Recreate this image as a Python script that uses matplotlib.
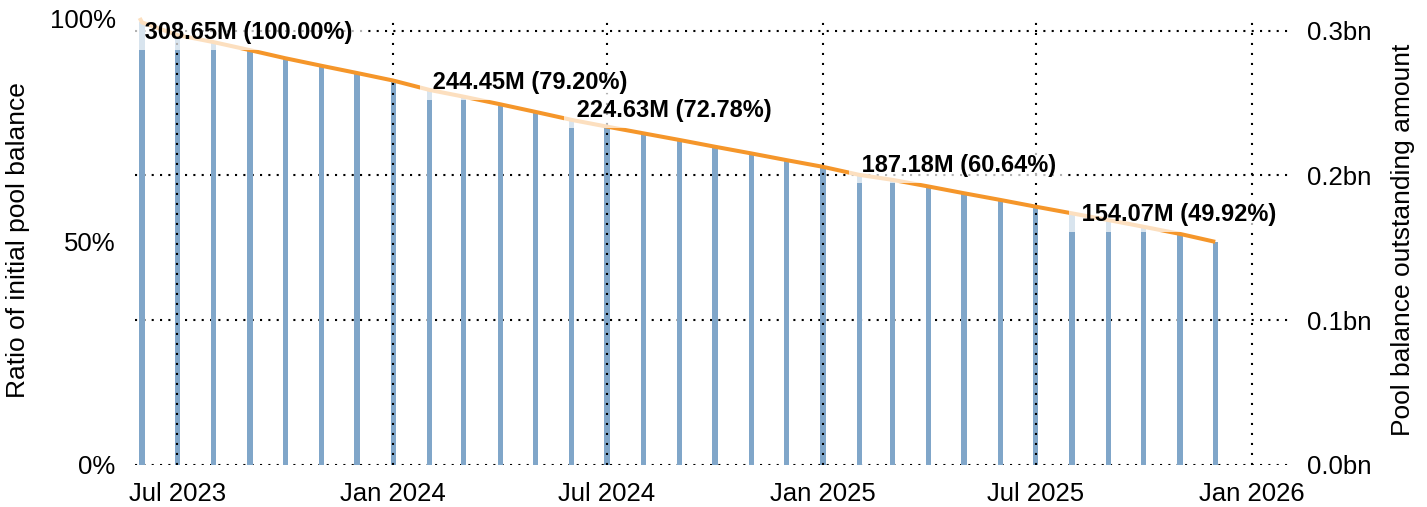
import matplotlib
matplotlib.use("Agg")
import matplotlib.pyplot as plt
import matplotlib.dates as mdates
import matplotlib.ticker as mticker
import pandas as pd

# ---------------- data ----------------
bar_dates = pd.date_range("2023-06-01", "2025-12-01", freq="MS")
ratio_pct = [99.0, 96.2, 94.6, 92.8, 91.0, 89.3, 87.7, 86.0, 83.9, 82.4, 80.7,
             79.0, 77.2, 75.7, 74.2, 72.7, 71.2, 69.7, 68.2, 66.7, 64.9, 63.8,
             62.3, 60.8, 59.3, 57.8, 56.3, 54.8, 53.3, 51.7, 49.92]
line_start_date = pd.Timestamp("2023-05-30")
line_start_pct = 100.0
initial_balance = 308.65e6

label_index = [0, 8, 12, 20, 26]
label_texts = ["308.65M (100.00%)", "244.45M (79.20%)", "224.63M (72.78%)",
               "187.18M (60.64%)", "154.07M (49.92%)"]
# label offsets in pixels (dx, dy) relative to anchor point
label_offsets = [(3, -10), (3, 7), (5, 9), (2, 9), (10, -1)]

right_ticks_bn = [0.0, 0.1, 0.2, 0.3]
left_ticks = [0.0, 0.5, 1.0]

# ---------------- style ----------------
plt.rcParams["font.family"] = ["Liberation Sans", "DejaVu Sans"]
BAR_C = "#80a6c9"
LINE_C = "#f5962a"

W, H = 1427, 507
fig = plt.figure(figsize=(W / 100, H / 100), dpi=100)
left_px, right_px, top_px, bottom_px = 135, 1288, 15, 465
ax = fig.add_axes([left_px / W, 1 - bottom_px / H,
                   (right_px - left_px) / W, (bottom_px - top_px) / H])
ax2 = ax.twinx()
ax.set_zorder(ax2.get_zorder() + 1)
ax.patch.set_visible(False)

ratio = [v / 100 for v in ratio_pct]
ax.bar(bar_dates, ratio, width=4.5, color=BAR_C, zorder=1)

line_x = [line_start_date] + list(bar_dates)
line_y = [line_start_pct / 100] + ratio
ax.plot(line_x, line_y, color=LINE_C, lw=2.9, zorder=3, solid_capstyle="butt")

px2pt = 72 / 100
for i, txt, (dx, dy) in zip(label_index, label_texts, label_offsets):
    ax.annotate(" " + txt + " ", xy=(bar_dates[i], ratio[i]),
                xytext=(dx * px2pt - 4.8, dy * px2pt),
                textcoords="offset points", ha="left", va="center",
                fontsize=17, fontweight="bold", color="black", zorder=5,
                bbox=dict(boxstyle="square,pad=0.25", fc="white", ec="none", alpha=0.7))

top = (bottom_px - top_px) / (bottom_px - 18)
ax.set_ylim(0, top)
ax2.set_ylim(0, top * initial_balance)
ax.set_xlim(pd.Timestamp("2023-05-26"), pd.Timestamp("2026-02-01"))

ax.xaxis.set_major_locator(mdates.MonthLocator(bymonth=[1, 7]))
ax.xaxis.set_major_formatter(mdates.DateFormatter("%b %Y"))
ax.set_yticks(left_ticks)
ax.yaxis.set_major_formatter(mticker.FuncFormatter(lambda v, p: f"{v*100:.0f}%"))
ax2.set_yticks([v * 1e9 for v in right_ticks_bn])
ax2.yaxis.set_major_formatter(mticker.FuncFormatter(lambda v, p: f"{v/1e9:.1f}bn"))

ax.set_axisbelow(False)
ax.grid(axis="x", color="black", linestyle=(0, (1, 3.8)), linewidth=1.5)
ax.grid(axis="y", visible=False)
ax2.grid(axis="y", color="black", linestyle=(0, (1, 3)), linewidth=1.5)

for a in (ax, ax2):
    for s in a.spines.values():
        s.set_visible(False)
ax.tick_params(axis="both", length=0, labelsize=18.5, colors="black")
ax.tick_params(axis="x", pad=12)
ax.tick_params(axis="y", pad=14)
ax2.tick_params(axis="y", length=0, labelsize=18.5, pad=14, colors="black")

ax.set_ylabel("Ratio of initial pool balance", fontsize=19, labelpad=14)
ax2.set_ylabel("Pool balance outstanding amount", fontsize=19, labelpad=14)

fig.savefig("out.png", dpi=100)
